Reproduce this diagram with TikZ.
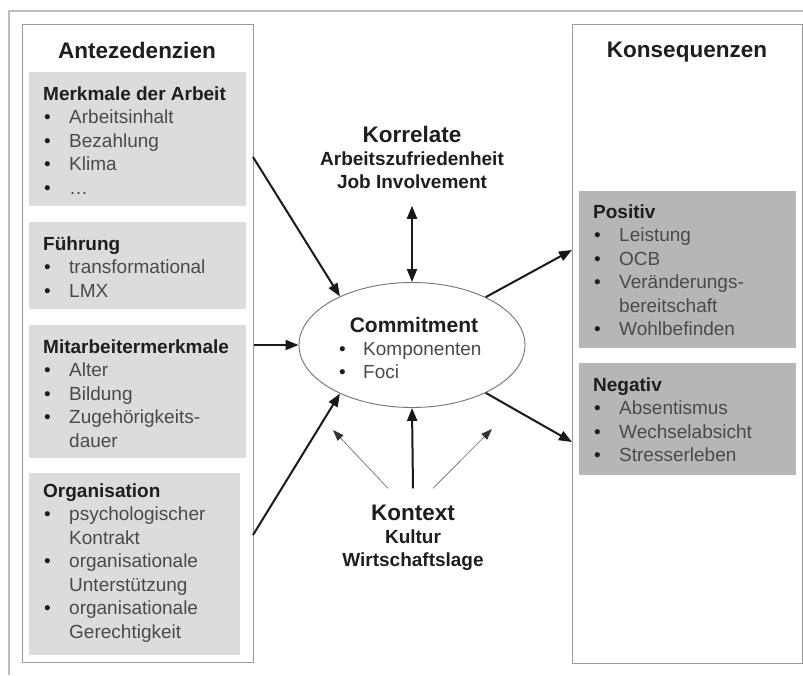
\documentclass[tikz,border=0pt]{standalone}
\usepackage{fontspec}
\setmainfont{Liberation Sans}
\usetikzlibrary{arrows.meta,shapes.geometric}

\definecolor{framegray}{HTML}{BDBDBD}
\definecolor{boxborder}{HTML}{9A9A9A}
\definecolor{lightfill}{HTML}{DCDCDC}
\definecolor{darkfill}{HTML}{B6B6B6}
\definecolor{itemtext}{HTML}{4A4A4A}
\definecolor{headtext}{HTML}{1E1E1E}

\newcommand\smallsz{\fontsize{19}{23.5}\selectfont}
\newcommand\bigsz{\fontsize{22.5}{27}\selectfont}
\newcommand\bul[1]{\makebox[26pt][l]{\hspace{1pt}\textcolor{headtext}{\textbullet}}\textcolor{itemtext}{#1}}
\newcommand\cnt[1]{\hspace*{26pt}\textcolor{itemtext}{#1}}
\newcommand\hd[1]{\textcolor{headtext}{\bfseries #1}}

\tikzset{
  colbox/.style={draw=boxborder, line width=1.3pt, fill=white, inner sep=0, anchor=north west},
  lightbox/.style={fill=lightfill, inner sep=0, anchor=north west},
  darkbox/.style={fill=darkfill, inner sep=0, anchor=north west},
  listtext/.style={anchor=base west, inner sep=0, font=\smallsz},
  title/.style={anchor=base, inner sep=0, font=\bigsz\bfseries, text=headtext},
  subtitle/.style={anchor=base, inner sep=0, font=\smallsz\bfseries, text=headtext},
  arr/.style={line width=2pt, draw=black!90, -{Triangle[length=13pt,width=10pt]}},
  arrboth/.style={line width=2pt, draw=black!90,
    {Triangle[length=13pt,width=10pt]}-{Triangle[length=13pt,width=10pt]}},
  thinarr/.style={line width=0.8pt, draw=black!50,
    -{Triangle[length=11pt,width=8pt,color=black!80]}},
}

\begin{document}
\begin{tikzpicture}[x=1pt,y=-1pt]
\useasboundingbox (0,0) rectangle (803,675);

% outer frame (top and left edges)
\draw[framegray, line width=1.3pt] (8,11) -- (803,11);
\draw[framegray, line width=1.3pt] (9,11) -- (9,675);

% the two column boxes
\node[colbox, minimum width=231pt, minimum height=638pt] (ante) at (22,24) {};
\node[colbox, minimum width=230pt, minimum height=639pt] (cons) at (572,24) {};

\node[title] (antetitle) at (137,58) {Antezedenzien};
\node[title] (constitle) at (687,57) {Konsequenzen};

% antecedent groups
\node[lightbox, minimum width=217pt, minimum height=134pt] (b1) at (29,72) {};
\node[lightbox, minimum width=217pt, minimum height=87pt]  (b2) at (29,222) {};
\node[lightbox, minimum width=217pt, minimum height=133pt] (b3) at (29,325) {};
\node[lightbox, minimum width=211pt, minimum height=182pt] (b4) at (29,473) {};

\node[listtext] (t1) at (43,100) {\begin{tabular}[t]{@{}l@{}}
  \hd{Merkmale der Arbeit}\\ \bul{Arbeitsinhalt}\\ \bul{Bezahlung}\\ \bul{Klima}\\ \bul{…}
\end{tabular}};
\node[listtext] (t2) at (43,250) {\begin{tabular}[t]{@{}l@{}}
  \hd{Führung}\\ \bul{transformational}\\ \bul{LMX}
\end{tabular}};
\node[listtext] (t3) at (43,353) {\begin{tabular}[t]{@{}l@{}}
  \hd{Mitarbeitermerkmale}\\ \bul{Alter}\\ \bul{Bildung}\\ \bul{Zugehörigkeits-}\\ \cnt{dauer}
\end{tabular}};
\node[listtext] (t4) at (43,497) {\begin{tabular}[t]{@{}l@{}}
  \hd{Organisation}\\ \bul{psychologischer}\\ \cnt{Kontrakt}\\ \bul{organisationale}\\
  \cnt{Unterstützung}\\ \bul{organisationale}\\ \cnt{Gerechtigkeit}
\end{tabular}};

% consequence groups
\node[darkbox, minimum width=217pt, minimum height=157pt] (pos) at (579,191) {};
\node[darkbox, minimum width=217pt, minimum height=112pt] (neg) at (579,363) {};

\node[listtext] (tpos) at (593,218) {\begin{tabular}[t]{@{}l@{}}
  \hd{Positiv}\\ \bul{Leistung}\\ \bul{OCB}\\ \bul{Veränderungs-}\\ \cnt{bereitschaft}\\ \bul{Wohlbefinden}
\end{tabular}};
\node[listtext] (tneg) at (593,391) {\begin{tabular}[t]{@{}l@{}}
  \hd{Negativ}\\ \bul{Absentismus}\\ \bul{Wechselabsicht}\\ \bul{Stresserleben}
\end{tabular}};

% central construct
\node[ellipse, draw=black!55, line width=0.9pt, fill=white, minimum width=226pt,
      minimum height=125pt, inner sep=0] (commit) at (412,345) {};
\node[anchor=base, inner sep=0, font=\fontsize{21}{25}\selectfont\bfseries, text=headtext]
  (ctitle) at (414,332) {Commitment};
\node[listtext] (citems) at (338,355) {\begin{tabular}[t]{@{}l@{}}
  \makebox[25pt][l]{\hspace{1pt}\textcolor{headtext}{\textbullet}}\textcolor{itemtext}{Komponenten}\\
  \makebox[25pt][l]{\hspace{1pt}\textcolor{headtext}{\textbullet}}\textcolor{itemtext}{Foci}
\end{tabular}};

% correlates
\node[title] (korr) at (412,142) {Korrelate};
\node[subtitle] (korrsub) at (412,165) {\begin{tabular}[t]{@{}c@{}}
  Arbeitszufriedenheit\\ Job Involvement\end{tabular}};

% context
\node[title] (kont) at (413,520) {Kontext};
\node[subtitle] (kontsub) at (413,543) {\begin{tabular}[t]{@{}c@{}}
  Kultur\\ Wirtschaftslage\end{tabular}};

% free ends
\coordinate (s1) at (253,157);
\coordinate (s3) at (253,535);
\coordinate (e1) at (572,250);
\coordinate (e2) at (572,442);
\coordinate (kl) at (333,430);
\coordinate (kr) at (492,429);

% connectors
\draw[arr] (s1) -- (commit.146);
\draw[arr] (ante.east |- commit.west) -- (commit.west);
\draw[arr] (s3) -- (commit.214);
\draw[arr] (commit.33) -- (e1);
\draw[arr] (commit.-33) -- (e2);
\draw[arrboth] ([yshift=-10pt]korrsub.south) -- (commit.north);
\draw[arr] ([yshift=16pt]kont.north) -- (commit.south);
\draw[thinarr] ([xshift=-25pt,yshift=16pt]kont.north) -- (kl);
\draw[thinarr] ([xshift=20pt,yshift=16pt]kont.north) -- (kr);
\end{tikzpicture}
\end{document}
